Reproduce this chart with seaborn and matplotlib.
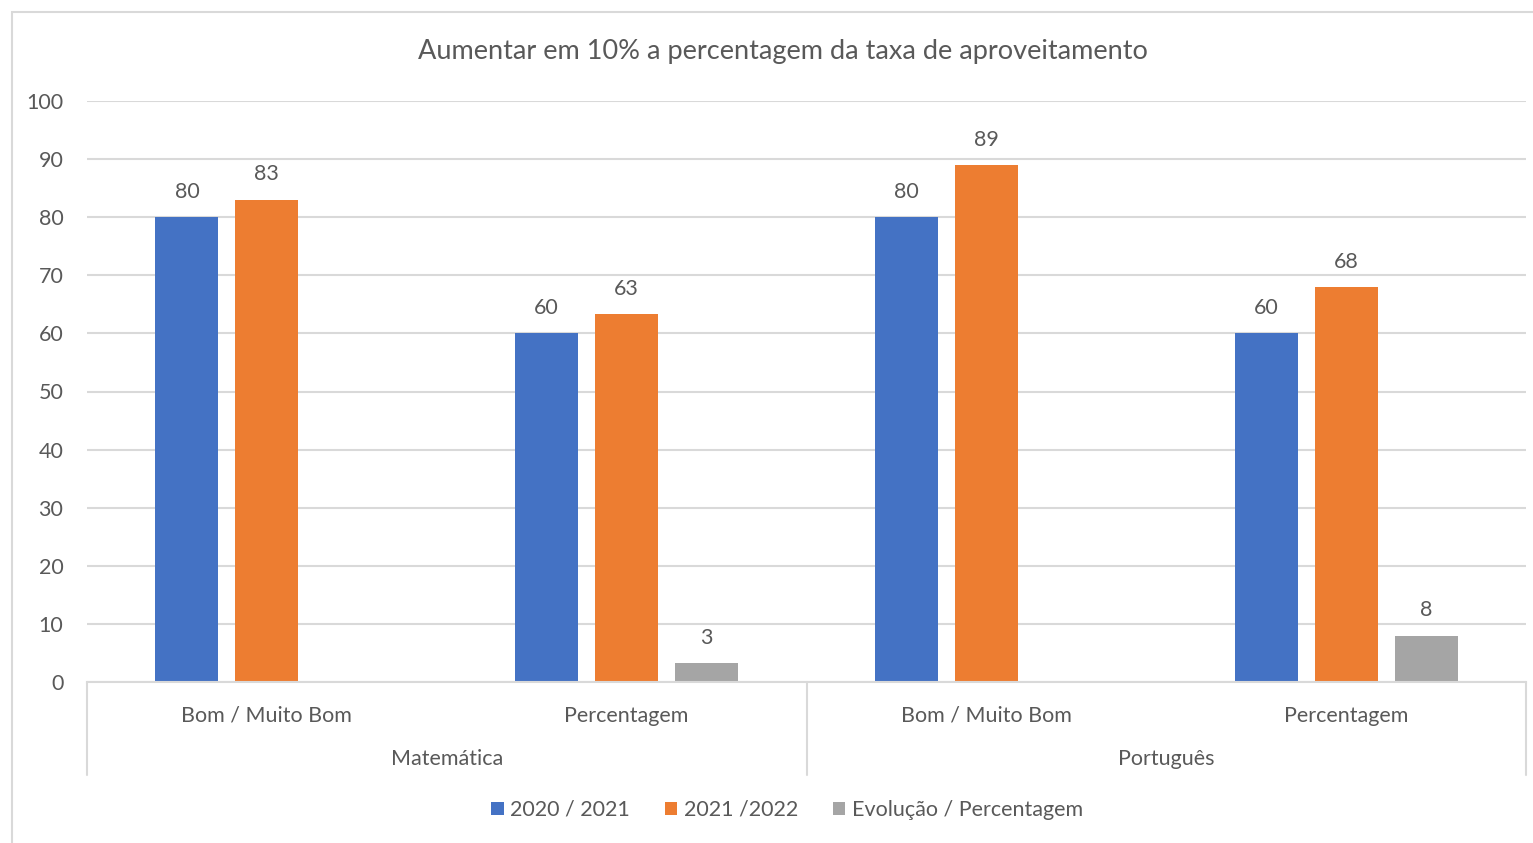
import pandas as pd
import seaborn as sns
import matplotlib.pyplot as plt
from matplotlib.patches import Patch, Rectangle

# dados
disciplinas = ['Matemática', 'Português']
categorias = ['Bom / Muito Bom', 'Percentagem']
series = ['2020 / 2021', '2021 /2022', 'Evolução / Percentagem']
v_2020 = [80, 60, 80, 60]
v_2021 = [83, 63.3, 89, 68]
v_evol = [None, 3.3, None, 8]
cores = ['#4472C4', '#ED7D31', '#A5A5A5']

rows = []
i = 0
for d in disciplinas:
    for c in categorias:
        chave = d + '|' + c
        for s, vals in zip(series, [v_2020, v_2021, v_evol]):
            if vals[i] is not None:
                rows.append({'grupo': chave, 'serie': s, 'valor': vals[i]})
        i += 1
df = pd.DataFrame(rows)
ordem = [d + '|' + c for d in disciplinas for c in categorias]

sns.set_theme(style='white')
plt.rcParams['font.family'] = ['Lato', 'DejaVu Sans']
txt = '#595959'
grid = '#D9D9D9'
fs = 15.5

fig = plt.figure(figsize=(15.33, 8.43), dpi=100)
ax = fig.add_axes([87 / 1533, 1 - 682 / 843, (1526 - 87) / 1533, (682 - 101) / 843])

sns.barplot(data=df, x='grupo', y='valor', hue='serie', order=ordem,
            hue_order=series, palette=cores, width=0.667, gap=0.21,
            saturation=1, linewidth=0, ax=ax, legend=False)

for cont in ax.containers:
    ax.bar_label(cont, labels=[f'{b.get_height():.0f}' for b in cont],
                 padding=11, fontsize=fs, color=txt)

ax.set_ylim(0, 100)
ax.set_xlim(-0.5, 3.5)
ax.set_yticks(range(0, 101, 10))
ax.yaxis.grid(True, color=grid, linewidth=1.5)
ax.set_axisbelow(True)
for sp in ['top', 'right', 'left']:
    ax.spines[sp].set_visible(False)
ax.spines['bottom'].set_color(grid)
ax.spines['bottom'].set_linewidth(1.5)
ax.set_xlabel('')
ax.set_ylabel('')
ax.set_xticks(range(len(ordem)))
ax.set_xticklabels(categorias * len(disciplinas))
ax.tick_params(axis='x', length=0, pad=17, labelsize=fs, labelcolor=txt)
ax.tick_params(axis='y', length=0, pad=17, labelsize=fs, labelcolor=txt)

# segundo nível do eixo
trans = ax.get_xaxis_transform()
for k, d in enumerate(disciplinas):
    ax.text(k * 2 + 0.5, -0.133, d, transform=trans, ha='center', va='center',
            fontsize=fs, color=txt)
for xs in [-0.5, 1.5, 3.5]:
    ax.plot([xs, xs], [0, -0.16], transform=trans, color=grid, lw=1.5, clip_on=False)

fig.text(783 / 1533, 1 - 52 / 843, 'Aumentar em 10% a percentagem da taxa de aproveitamento',
         ha='center', va='center', fontsize=19.5, color=txt)

handles = [Patch(facecolor=c, edgecolor='none') for c in cores]
fig.legend(handles, series, loc='center', bbox_to_anchor=(787 / 1533, 1 - 810 / 843),
           ncol=3, frameon=False, fontsize=fs, labelcolor=txt, handlelength=0.6,
           handleheight=0.6, handletextpad=0.3, columnspacing=1.6)

fig.patches.append(Rectangle((12 / 1533, -0.1), 1.2, 1 - 12 / 843 + 0.1,
                             transform=fig.transFigure, fill=False,
                             edgecolor=grid, linewidth=1.5))

fig.savefig('out.png', dpi=100)
